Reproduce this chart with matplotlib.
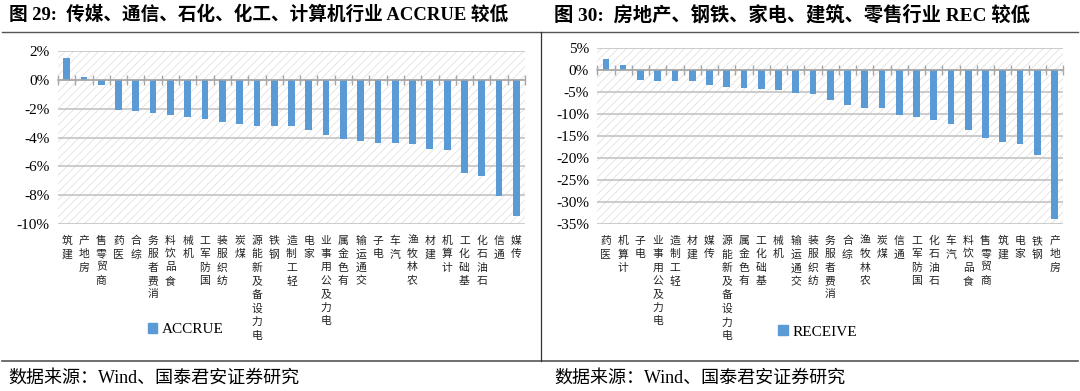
import numpy as np
import matplotlib
matplotlib.use("Agg")
import matplotlib.pyplot as plt
from matplotlib.patches import Rectangle, Patch
from matplotlib.lines import Line2D
from matplotlib.ticker import FuncFormatter

plt.rcParams['font.family'] = ['Liberation Serif', 'Noto Sans CJK SC', 'DejaVu Sans']
plt.rcParams['hatch.linewidth'] = 0.5

left_title = "图 29:  传媒、通信、石化、化工、计算机行业 ACCRUE 较低"
right_title = "图 30:  房地产、钢铁、家电、建筑、零售行业 REC 较低"
source = "数据来源：Wind、国泰君安证券研究"

accrue_cats = ["建筑", "房地产", "商贸零售", "医药", "综合", "消费者服务", "食品饮料", "机械",
               "国防军工", "纺织服装", "煤炭", "电力设备及新能源", "钢铁", "轻工制造", "家电",
               "电力及公用事业", "有色金属", "交通运输", "电子", "汽车", "农林牧渔", "建材",
               "计算机", "基础化工", "石油石化", "通信", "传媒"]
accrue_vals = [1.48, 0.18, -0.34, -2.09, -2.16, -2.32, -2.41, -2.55, -2.73, -2.91, -3.09,
               -3.18, -3.23, -3.23, -3.48, -3.80, -4.09, -4.21, -4.35, -4.35, -4.46, -4.76,
               -4.85, -6.44, -6.64, -8.03, -9.40]

receive_cats = ["医药", "计算机", "电子", "电力及公用事业", "轻工制造", "建材", "传媒",
                "电力设备及新能源", "有色金属", "基础化工", "机械", "交通运输", "纺织服装",
                "消费者服务", "综合", "农林牧渔", "煤炭", "通信", "国防军工", "石油石化", "汽车",
                "食品饮料", "商贸零售", "建筑", "家电", "钢铁", "房地产"]
receive_vals = [2.6, 1.3, -2.2, -2.5, -2.5, -2.5, -3.3, -3.7, -4.1, -4.2, -4.5, -5.1, -5.3,
                -6.7, -7.8, -8.5, -8.6, -10.1, -10.7, -11.3, -12.3, -13.5, -15.4, -16.4,
                -16.7, -19.2, -33.7]

BAR = '#5B9BD5'
GRID = '#BFBFBF'

fig = plt.figure(figsize=(10.8, 3.91), dpi=100)


def draw_panel(rect, cats, vals, ylim, step, legend_name, legend_pos):
    ax = fig.add_axes(rect)
    x = np.arange(len(cats))
    # hatched background
    ax.add_patch(Rectangle((0, 0), 1, 1, transform=ax.transAxes, facecolor='none',
                           edgecolor='#DCDCDC', hatch='////', linewidth=0, zorder=0))
    ax.bar(x, vals, width=0.39, color=BAR, zorder=3)
    ax.set_xlim(-0.5, len(cats) - 0.5)
    ax.set_ylim(*ylim)
    ax.set_yticks(np.arange(ylim[0], ylim[1] + 0.1, step))
    ax.yaxis.set_major_formatter(FuncFormatter(lambda v, p: f"{v:.0f}%"))
    ax.tick_params(axis='y', length=0, labelsize=11, pad=6)
    ax.grid(axis='y', color=GRID, linewidth=1.1, zorder=1)
    for s in ['top', 'right', 'left']:
        ax.spines[s].set_visible(False)
    ax.spines['bottom'].set_position(('data', 0))
    ax.spines['bottom'].set_color('#A6A6A6')
    ax.spines['bottom'].set_linewidth(1.1)
    ax.spines['bottom'].set_zorder(4)
    ax.set_xticks(np.arange(len(cats) + 1) - 0.5)
    ax.set_xticklabels([])
    ax.tick_params(axis='x', direction='inout', length=7, width=1, color='#A6A6A6')
    # labels read upward: last character nearest the axis
    for i, c in enumerate(cats):
        ax.text(i, -0.065, "\n".join(reversed(c)), transform=ax.get_xaxis_transform(),
                ha='center', va='top', fontsize=7.8, linespacing=1.42,
                family=['Noto Sans CJK SC'], color='#222222')
    ax.legend(handles=[Patch(color=BAR, label=legend_name)], loc='center',
              bbox_to_anchor=legend_pos, bbox_transform=fig.transFigure, frameon=False,
              handlelength=0.6, handleheight=0.6, handletextpad=0.3,
              prop={'family': 'Liberation Serif', 'size': 11})
    return ax


draw_panel([0.0537, 0.4263, 0.4324, 0.444], accrue_cats, accrue_vals, (-10, 2), 2,
           'ACCRUE', (0.172, 0.157))
draw_panel([0.553, 0.4263, 0.4315, 0.450], receive_cats, receive_vals, (-35, 5), 5,
           'RECEIVE', (0.757, 0.151))

fig.text(0.008, 0.962, left_title, fontsize=13.4, fontweight='bold', va='center', ha='left')
fig.text(0.513, 0.962, right_title, fontsize=13.9, fontweight='bold', va='center', ha='left')
fig.text(0.008, 0.033, source, fontsize=13, va='center', ha='left')
fig.text(0.513, 0.033, source, fontsize=13, va='center', ha='left')

# frame lines
fig.add_artist(Line2D([0.002, 0.998], [1 - 32 / 391, 1 - 32 / 391], color='#555555', lw=1))
fig.add_artist(Line2D([0.002, 0.998], [1 - 361 / 391, 1 - 361 / 391], color='#555555', lw=1.2))
fig.add_artist(Line2D([541 / 1080, 541 / 1080], [1 - 32 / 391, 1 - 361 / 391], color='#333333', lw=0.9))

fig.savefig("out.png", dpi=100)
